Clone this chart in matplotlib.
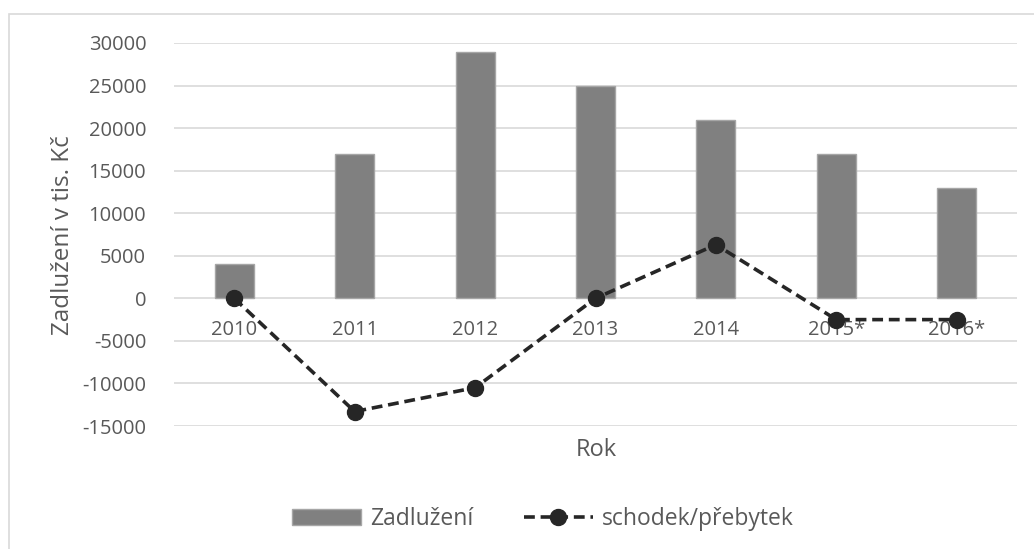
import matplotlib as mtp
mtp.use("Agg")
import matplotlib.pyplot as plt
from matplotlib.patches import Rectangle
import numpy as np

roky = ['2010', '2011', '2012', '2013', '2014', '2015*', '2016*']
zadluzeni = [4000, 17000, 29000, 25000, 21000, 17000, 13000]
saldo = [0, -13300, -10500, 0, 6300, -2500, -2500]
yticks = [-15000, -10000, -5000, 0, 5000, 10000, 15000, 20000, 25000, 30000]

plt.rcParams['font.family'] = ['Open Sans', 'DejaVu Sans']
txt = '#595959'

fig = plt.figure(figsize=(10.34, 5.49), dpi=100)
ax = fig.add_axes([174 / 1034, 1 - 426 / 549, (1017 - 174) / 1034, (426 - 43) / 549])

x = np.arange(len(roky))
bars = ax.bar(x, zadluzeni, width=0.325, color='#808080', edgecolor='#a6a6a6',
              linewidth=1, zorder=2, label='Zadlužení')
line, = ax.plot(x, saldo, color='#262626', linestyle=(0, (3, 1.6)), linewidth=2.6,
                marker='o', markersize=11.5, zorder=3, label='schodek/přebytek')

ax.set_xlim(-0.5, len(roky) - 0.5)
ax.set_ylim(-15000, 30000)
ax.set_yticks(yticks)
ax.set_yticklabels([str(v) for v in yticks])
ax.yaxis.grid(True, color='#d9d9d9', linewidth=1.2, zorder=0)
ax.set_axisbelow(True)
for s in ax.spines.values():
    s.set_visible(False)
ax.tick_params(axis='y', length=0, pad=20, labelsize=14.5, labelcolor=txt)
ax.set_xticks([])

# popisky kategorii tesne pod nulovou osou
for i, r in enumerate(roky):
    ax.text(i, -3700, r, ha='center', va='center', fontsize=14.5, color=txt, zorder=1)

fig.text(63 / 1034, 1 - 235 / 549, 'Zadlužení v tis. Kč', rotation=90,
         ha='center', va='center', fontsize=17.5, color=txt)
fig.text(596 / 1034, 1 - 450 / 549, 'Rok', ha='center', va='center', fontsize=17, color=txt)

fig.legend([bars, line], ['Zadlužení', 'schodek/přebytek'], loc='center',
           bbox_to_anchor=(543 / 1034, 1 - 519 / 549), ncol=2, frameon=False,
           fontsize=16.5, labelcolor=txt, handlelength=3.0, columnspacing=2.2,
           handletextpad=0.4)

fig.patches.append(Rectangle((9 / 1034, -0.1), 1.2, 1 - 14 / 549 + 0.1,
                             transform=fig.transFigure, fill=False,
                             edgecolor='#d9d9d9', linewidth=1.2))

plt.savefig('out.png', dpi=100)
